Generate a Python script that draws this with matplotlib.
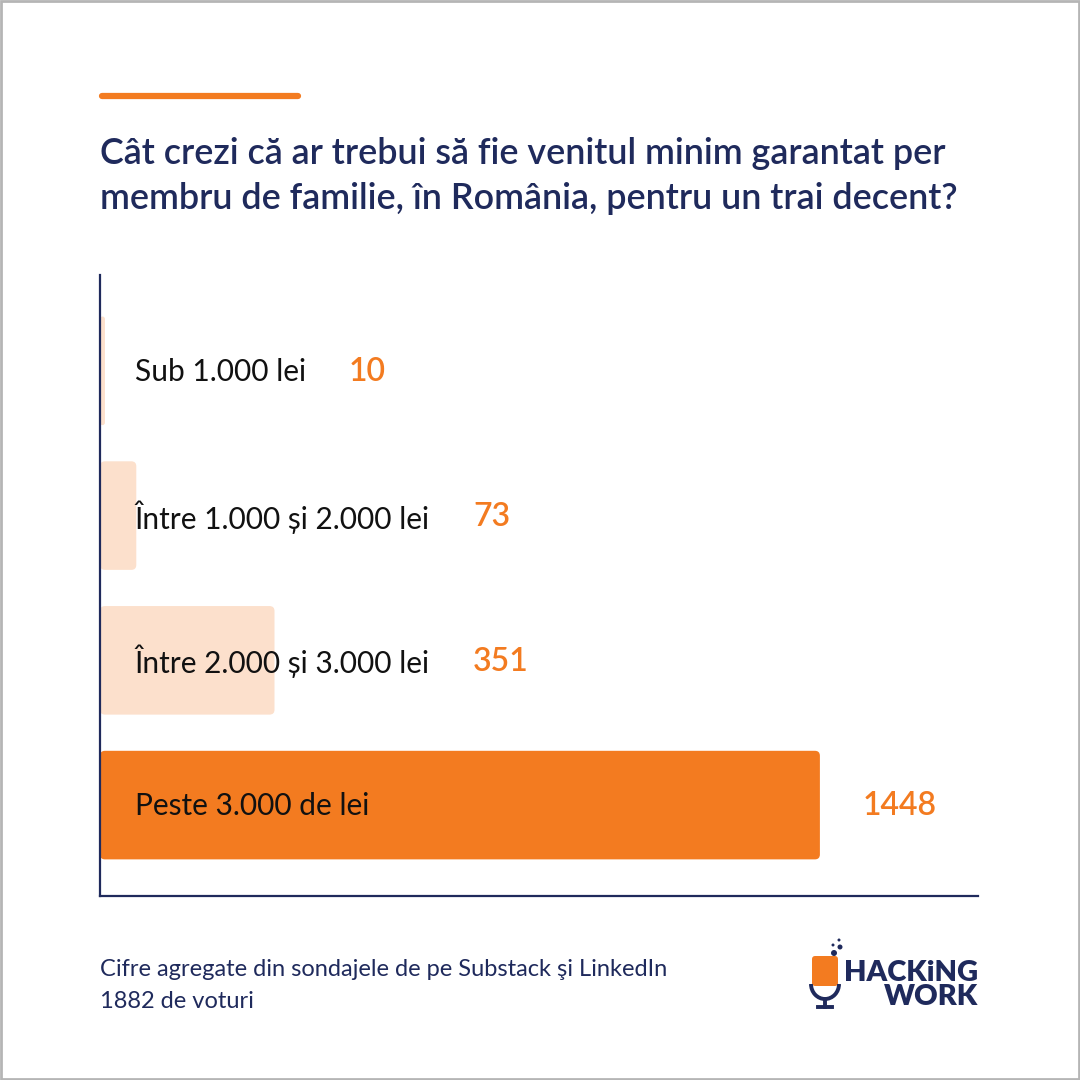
import matplotlib.pyplot as plt
from matplotlib.patches import Rectangle, FancyBboxPatch, Circle, Arc
from matplotlib.lines import Line2D

# Data
categories = ['Sub 1.000 lei', 'Între 1.000 și 2.000 lei', 'Între 2.000 și 3.000 lei', 'Peste 3.000 de lei']
votes = [10, 73, 351, 1448]
title_lines = ['Cât crezi că ar trebui să fie venitul minim garantat per',
               'membru de familie, în România, pentru un trai decent?']
footer_lines = ['Cifre agregate din sondajele de pe Substack şi LinkedIn',
                '1882 de voturi']

NAVY = '#1f2a5c'
ORANGE = '#f37b20'
LIGHT = '#fce0cc'
FONT = ['Lato', 'DejaVu Sans']
plt.rcParams['font.family'] = FONT

fig = plt.figure(figsize=(10.8, 10.8), dpi=100)
fig.patch.set_facecolor('white')

# grey frame around the card
fig.add_artist(Rectangle((0.0005, 0.0005), 0.999, 0.999, transform=fig.transFigure,
                         fill=False, edgecolor='#b5b5b5', lw=2))

# orange accent line
fig.add_artist(Line2D([102/1080, 298/1080], [1 - 96/1080, 1 - 96/1080], color=ORANGE,
                      lw=4.5, solid_capstyle='round', transform=fig.transFigure))

# title, one baseline per line
for i, line in enumerate(title_lines):
    fig.text(100/1080, 1 - (164 + 45 * i)/1080, line, ha='left', va='baseline',
             fontsize=25.8, fontweight='semibold', color=NAVY)

ax = fig.add_axes([100/1080, 184/1080, 878/1080, 621/1080])
y = list(range(len(categories)))
colors = [LIGHT, LIGHT, LIGHT, ORANGE]
bars = ax.barh(y, votes, height=0.75, color=colors, edgecolor='none')
ax.set_xlim(0, 1766)
ax.set_ylim(3.628, -0.662)

# swap the plain bars for rounded ones (same geometry)
aspect = (4.29 / 621) / (1766 / 878)
for b in bars:
    w = b.get_width()
    r = min(10, w / 2)
    rb = FancyBboxPatch((b.get_x(), b.get_y()), w, b.get_height(),
                        boxstyle=f'round,pad=0,rounding_size={r}',
                        mutation_aspect=aspect, facecolor=b.get_facecolor(),
                        edgecolor='none', zorder=b.get_zorder())
    ax.add_patch(rb)
    b.set_visible(False)

for s in ['top', 'right']:
    ax.spines[s].set_visible(False)
for s in ['left', 'bottom']:
    ax.spines[s].set_color(NAVY)
    ax.spines[s].set_linewidth(1.6)
    ax.spines[s].set_zorder(5)
ax.set_xticks([])
ax.set_yticks([])

fig.canvas.draw()
renderer = fig.canvas.get_renderer()
inv = ax.transData.inverted()
for yi, cat, v in zip(y, categories, votes):
    t = ax.annotate(cat, xy=(0, yi), xytext=(25, -1), textcoords='offset points',
                    ha='left', va='center', fontsize=21.5, color='#111111')
    bb = t.get_window_extent(renderer)
    text_end = inv.transform((bb.x1, 0))[0]
    ax.annotate(str(v), xy=(max(v, text_end), yi), xytext=(31, -1),
                textcoords='offset points', ha='left', va='center',
                fontsize=23, fontweight='semibold', color=ORANGE)

for i, line in enumerate(footer_lines):
    fig.text(100/1080, 1 - (976 + 32 * i)/1080, line, ha='left', va='baseline',
             fontsize=17, color=NAVY)

# logo
fig.add_artist(FancyBboxPatch((812/1080, 1 - 986/1080), 26/1080, 30/1080,
                              boxstyle='round,pad=0,rounding_size=0.003',
                              transform=fig.transFigure, facecolor=ORANGE, edgecolor='none'))
for cx, cy, r in [(834, 953, 3), (840, 947, 2.5), (833, 945, 1.5), (839, 940, 1.5)]:
    fig.add_artist(Circle((cx/1080, 1 - cy/1080), r/1080, transform=fig.transFigure,
                          facecolor=NAVY, edgecolor='none'))
fig.add_artist(Arc((825/1080, 1 - 984/1080), 28/1080, 30/1080, theta1=180, theta2=360,
                   transform=fig.transFigure, color=NAVY, lw=2.8))
fig.add_artist(Line2D([825/1080, 825/1080], [1 - 999/1080, 1 - 1007/1080], color=NAVY,
                      lw=2.8, transform=fig.transFigure))
fig.add_artist(Line2D([818/1080, 832/1080], [1 - 1007/1080, 1 - 1007/1080], color=NAVY,
                      lw=2.8, transform=fig.transFigure))
fig.text(978/1080, 1 - 985/1080, 'HACKiNG\nWORK', ha='right', va='center',
         multialignment='right', fontsize=21, fontweight='heavy', color=NAVY,
         linespacing=0.95)

fig.savefig('out.png', dpi=100, facecolor='white')
